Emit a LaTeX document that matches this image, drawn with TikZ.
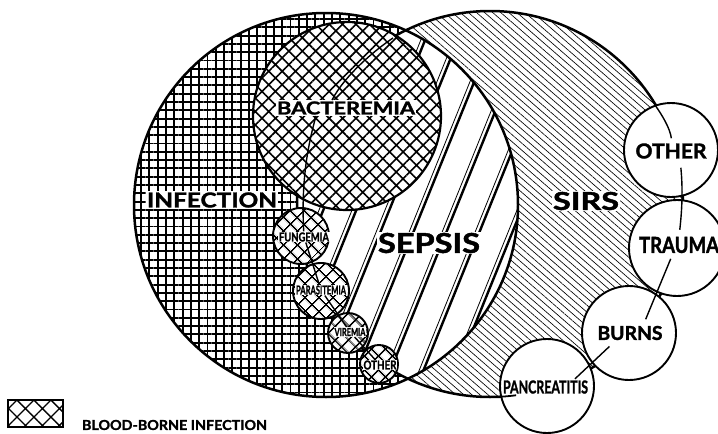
\documentclass[tikz,border=0pt]{standalone}
\usepackage{fontspec}
\setmainfont{Lato}[BoldFeatures={FakeBold=1.6}]
\usepackage{graphicx}
\usetikzlibrary{patterns.meta}
\newcommand{\mylab}[3]{\resizebox{#1}{#2}{\bfseries #3}}
\begin{document}
\begin{tikzpicture}[x=1pt,y=-1pt,
  bigc/.style={line width=2.5pt},
  midc/.style={line width=2.2pt},
  smallc/.style={line width=1.9pt},
  lbl/.style={fill=white,inner sep=1.2pt},
  plain/.style={inner sep=0pt},
  chain/.style={line width=1.4pt},
  gridpat/.style={pattern={Hatch[angle=0,distance=8.3pt,line width=1.9pt]}},
  sirspat/.style={pattern={Lines[angle=-41,distance=5.3pt,line width=0.65pt]}},
  bloodpat/.style={pattern={Hatch[angle=45,distance=9.5pt,line width=1.6pt]}},
  bloodpatS/.style={pattern={Hatch[angle=45,distance=10.5pt,line width=1.6pt]}},
  legpat/.style={pattern={Hatch[angle=45,distance=12pt,line width=1.3pt]}},
]
\useasboundingbox (0,0) rectangle (718,434);

\coordinate (I) at (326,205);
\coordinate (S) at (490,204);
\coordinate (B) at (347,116);

% infection
\fill[white] (I) circle[radius=192pt];
\fill[gridpat] (I) circle[radius=192pt];
% SIRS
\fill[white] (S) circle[radius=193pt];
\fill[sirspat] (S) circle[radius=193pt];
% sepsis (intersection)
\begin{scope}
  \clip (I) circle[radius=192pt];
  \clip (S) circle[radius=193pt];
  \fill[white] (280,0) rectangle (560,434);
  \foreach \k in {-4,...,12} {
    \draw[line width=2.4pt] (263.3+33*\k,440) -- ++(178,-440);
    \draw[line width=0.8pt] (259+33*\k,440) -- ++(178,-440);
  }
\end{scope}
\draw[bigc] (I) circle[radius=192pt];
\draw[bigc] (S) circle[radius=193pt];

% bacteremia
\fill[white] (B) circle[radius=94pt];
\fill[bloodpat] (B) circle[radius=94pt];
\draw[midc] (B) circle[radius=94pt];

% small blood-borne circles
\fill[white] (301,236) circle[radius=28pt];
\fill[bloodpatS] (301,236) circle[radius=28pt];
\draw[smallc] (301,236) circle[radius=28pt];
\fill[white] (321,291) circle[radius=28pt];
\fill[bloodpatS] (321,291) circle[radius=28pt];
\draw[smallc] (321,291) circle[radius=28pt];
\fill[white] (348,333) circle[radius=20pt];
\fill[bloodpatS] (348,333) circle[radius=20pt];
\draw[smallc] (348,333) circle[radius=20pt];
\fill[white] (379,364) circle[radius=19pt];
\fill[bloodpatS] (379,364) circle[radius=19pt];
\draw[smallc] (379,364) circle[radius=19pt];

% right-hand circles
\filldraw[fill=white,smallc] (671,150) circle[radius=47pt];
\filldraw[fill=white,smallc] (677,248) circle[radius=48pt];
\filldraw[fill=white,smallc] (629,333) circle[radius=47pt];
\filldraw[fill=white,smallc] (547,386) circle[radius=47pt];
\begin{scope}
  \clip (497,380) rectangle (516,402);
  \draw[line width=1.8pt] (S) circle[radius=193pt];
\end{scope}

% labels
\node[lbl] (inf) at (212,200) {\mylab{130pt}{15pt}{INFECTION}};
\node[lbl] (bact) at (346,108) {\mylab{138pt}{13pt}{BACTEREMIA}};
\node[lbl] (sep) at (429,243) {\mylab{102pt}{20pt}{SEPSIS}};
\node[lbl] (sirs) at (586,201) {\mylab{66pt}{18pt}{SIRS}};
\node[lbl,inner sep=0.8pt] (fung) at (304,237) {\mylab{50pt}{9pt}{FUNGEMIA}};
\node[lbl,inner sep=0.8pt] (par) at (321,290) {\mylab{50pt}{9pt}{PARASITEMIA}};
\node[lbl,inner sep=0.8pt] (vir) at (350,332) {\mylab{31pt}{8pt}{VIREMIA}};
\node[lbl,inner sep=0.8pt] (oths) at (380,365) {\mylab{33pt}{9pt}{OTHER}};
\node[plain] (oth) at (671,151) {\mylab{71pt}{15pt}{OTHER}};
\node[plain] (tra) at (679,245) {\mylab{80pt}{16pt}{TRAUMA}};
\node[plain] (burn) at (630,333) {\mylab{65pt}{14pt}{BURNS}};
\node[plain] (panc) at (545.5,387) {\mylab{85pt}{13pt}{PANCREATITIS}};

% left chain
\coordinate (c0) at (393,38);
\draw[chain] (c0) .. controls (375,50) and (345,75) .. ([xshift=-14pt]bact.north);
\draw[chain] ([xshift=-30pt]bact.south) .. controls (308,145) and (301,180) .. (fung);
\draw[chain] (fung) -- (par);
\draw[chain] (par) -- (vir);
\draw[chain] (vir) -- (oths);

% right chain
\coordinate (c1) at (655,105);
\draw[chain,shorten >=5pt] (c1) .. controls (662,115) and (670,128) .. ([xshift=1pt]oth.north);
\draw[chain,shorten <=9pt,shorten >=7pt] ([xshift=9pt]oth.south) .. controls (683,190) and (682,210) .. (tra.north);
\draw[chain,shorten <=6pt,shorten >=7pt] ([xshift=-6pt]tra.south) -- ([xshift=13pt]burn.north);
\draw[chain,shorten <=9pt,shorten >=2pt] ([xshift=-14pt]burn.south) -- ([xshift=28pt]panc.north);

% legend
\draw[line width=1.8pt,legpat] (8,400) rectangle (63,427);
\node[plain] (leg) at (174.5,425) {\mylab{185pt}{10pt}{BLOOD-BORNE INFECTION}};
\end{tikzpicture}
\end{document}
